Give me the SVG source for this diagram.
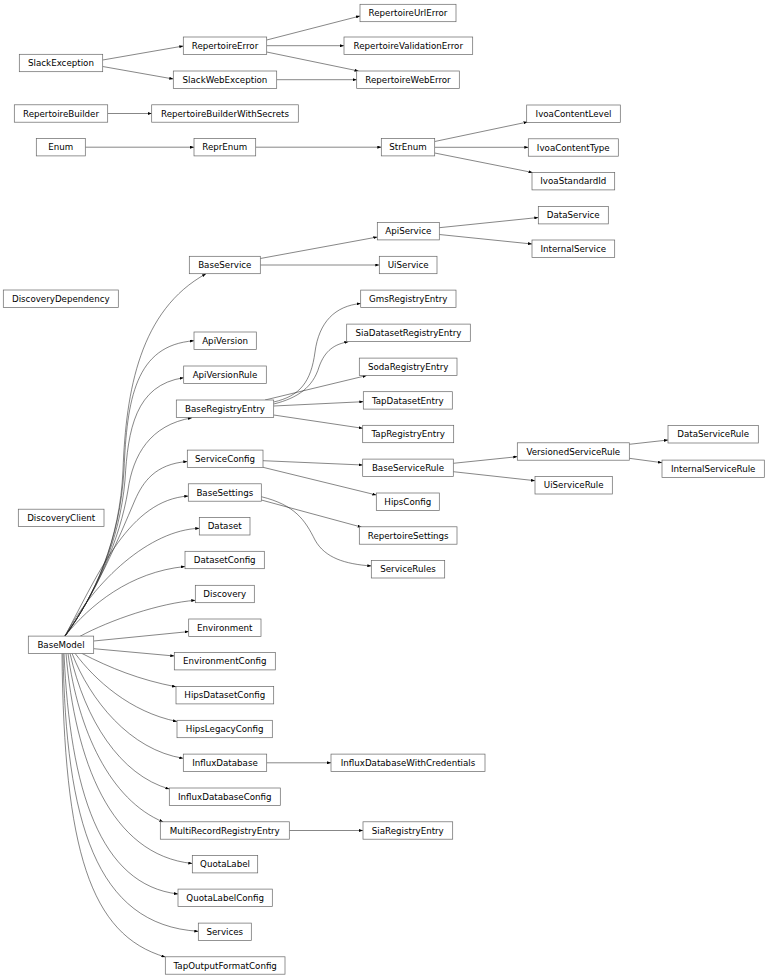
<svg xmlns="http://www.w3.org/2000/svg" width="768" height="978" viewBox="0 0 768 978">
<style>
rect{fill:#fff;stroke:#666;stroke-width:0.7}
text{font-family:"DejaVu Sans",sans-serif;font-size:8.7px;text-anchor:middle;fill:#000}
#edges path{fill:none;stroke:#222;stroke-width:0.55;marker-end:url(#a)}
</style>
<defs>
<marker id="a" markerWidth="4" markerHeight="3" refX="4" refY="1.5" orient="auto" markerUnits="userSpaceOnUse"><path d="M0,0 L4,1.5 L0,3z" fill="#000"/></marker>
</defs>
<rect x="0" y="0" width="768" height="978" style="stroke:none"/>
<g id="edges">
<path d="M102.7,60 L183.3,46"/>
<path d="M102.7,66.5 L173.3,79"/>
<path d="M266.7,40 L360,16"/>
<path d="M266.7,45.7 L344,45.7"/>
<path d="M266.7,52 L358.5,71"/>
<path d="M276.7,79.7 L356.7,79.7"/>
<path d="M107.7,113.5 L151.7,113.5"/>
<path d="M85.3,147.2 L194,147.2"/>
<path d="M255.7,147.2 L381.3,147.2"/>
<path d="M434.7,141.5 L527.5,122"/>
<path d="M434.7,147.3 L528.3,147.3"/>
<path d="M434.7,153 L532.5,172.5"/>
<path d="M260.3,258.5 L377.3,237"/>
<path d="M260.3,265 L379.3,265"/>
<path d="M439.3,227.7 L538.3,217.5"/>
<path d="M439.3,234.5 L532,244"/>
<path d="M273.7,402 C300,396 311,382 315,352 C319,322 335,306 360.7,303.5"/>
<path d="M273.7,404 C298,398 313,387 319,367 C325,350 335,344 348.3,341.8"/>
<path d="M265,400 L366.7,375.5"/>
<path d="M273.7,406 L363.3,401.7"/>
<path d="M273.7,415 L362.7,428.3"/>
<path d="M263,460.7 L362.7,465"/>
<path d="M263,467.3 L376.3,495"/>
<path d="M261.3,500 L361.7,527.2"/>
<path d="M261.3,496.7 C295,505 305,520 315,540 C325,558 345,564 371.3,566"/>
<path d="M453.3,463.3 L517.3,456.7"/>
<path d="M453.3,471.7 L535,480.7"/>
<path d="M629.3,444.3 L668,440"/>
<path d="M629.3,458.3 L662,462.7"/>
<path d="M266.7,762.8 L331,762.8"/>
<path d="M289.3,830.5 L363,830.5"/>
<path d="M65,636 C95,595 120,540 123,470 C126,390 140,310 206,273.8"/>
<path d="M65,636 C95,595 120,540 124,470 C127,400 135,345 194,340.8"/>
<path d="M65,636 C95,595 120,540 125,480 C128,430 135,385 183.7,377.7"/>
<path d="M65,636 C95,595 120,540 128,490 C133,455 150,425 192,417.8"/>
<path d="M65,636 C95,595 118,540 135,500 C143,482 155,464 187.3,461.5"/>
<path d="M65,636 C100,570 130,500 188.3,496"/>
<path d="M65,636 C95,580 150,530 199.3,528.3"/>
<path d="M65,636 C90,605 130,572 185,566.5"/>
<path d="M80,636.3 C110,620 160,603 195.3,600.3"/>
<path d="M93.7,641 L188.7,631.6"/>
<path d="M93.7,648.7 L174.3,656"/>
<path d="M81.7,653.3 C110,668 140,680 176,686.8"/>
<path d="M75,653.3 C95,680 130,712 177,721.5"/>
<path d="M72,653.3 C90,700 130,750 183.3,758.3"/>
<path d="M70,653.3 C85,720 120,775 169.3,789"/>
<path d="M68,653.3 C78,730 110,800 163.3,822"/>
<path d="M66,653.3 C75,760 110,855 192.3,863.5"/>
<path d="M64,653.3 C70,790 100,885 178,894"/>
<path d="M63,653.3 C66,820 95,925 198.3,931.3"/>
<path d="M62,653.3 C64,850 90,935 165.3,957"/>
</g>
<g id="SlackException"><rect x="19.3" y="54.3" width="83.4" height="17.4"/><text x="61" y="66.1">SlackException</text></g>
<g id="RepertoireBuilder"><rect x="14.3" y="104.8" width="93.4" height="17.4"/><text x="61" y="116.6">RepertoireBuilder</text></g>
<g id="Enum"><rect x="36.3" y="138.5" width="49" height="17.4"/><text x="60.8" y="150.3">Enum</text></g>
<g id="DiscoveryDependency"><rect x="3.3" y="290" width="115" height="17.4"/><text x="60.8" y="301.8">DiscoveryDependency</text></g>
<g id="DiscoveryClient"><rect x="18.3" y="509.2" width="85.7" height="17.4"/><text x="61.2" y="521">DiscoveryClient</text></g>
<g id="BaseModel"><rect x="28.3" y="636.1" width="65.4" height="17.4"/><text x="61" y="647.9">BaseModel</text></g>
<g id="RepertoireError"><rect x="183.3" y="37" width="83.4" height="17.4"/><text x="225" y="48.8">RepertoireError</text></g>
<g id="SlackWebException"><rect x="173.3" y="71" width="103.4" height="17.4"/><text x="225" y="82.8">SlackWebException</text></g>
<g id="RepertoireBuilderWithSecrets"><rect x="151.7" y="104.8" width="146.6" height="17.4"/><text x="225" y="116.6">RepertoireBuilderWithSecrets</text></g>
<g id="ReprEnum"><rect x="194" y="138.5" width="61.7" height="17.4"/><text x="224.8" y="150.3">ReprEnum</text></g>
<g id="BaseService"><rect x="189.3" y="256.3" width="71" height="17.4"/><text x="224.8" y="268.1">BaseService</text></g>
<g id="ApiVersion"><rect x="194" y="332" width="62.3" height="17.4"/><text x="225.1" y="343.8">ApiVersion</text></g>
<g id="ApiVersionRule"><rect x="183.7" y="366" width="82.6" height="17.4"/><text x="225" y="377.8">ApiVersionRule</text></g>
<g id="BaseRegistryEntry"><rect x="176.3" y="400" width="97.4" height="17.4"/><text x="225" y="411.8">BaseRegistryEntry</text></g>
<g id="ServiceConfig"><rect x="187.3" y="450.1" width="75.7" height="17.4"/><text x="225.1" y="461.9">ServiceConfig</text></g>
<g id="BaseSettings"><rect x="188.3" y="483.8" width="73" height="17.4"/><text x="224.8" y="495.6">BaseSettings</text></g>
<g id="Dataset"><rect x="199.3" y="517.6" width="50.7" height="17.4"/><text x="224.7" y="529.4">Dataset</text></g>
<g id="DatasetConfig"><rect x="185" y="551.3" width="79.3" height="17.4"/><text x="224.7" y="563.1">DatasetConfig</text></g>
<g id="Discovery"><rect x="195.3" y="585.3" width="59" height="17.4"/><text x="224.8" y="597.1">Discovery</text></g>
<g id="Environment"><rect x="188.7" y="619" width="72.3" height="17.4"/><text x="224.8" y="630.8">Environment</text></g>
<g id="EnvironmentConfig"><rect x="174.3" y="652.5" width="101" height="17.4"/><text x="224.8" y="664.3">EnvironmentConfig</text></g>
<g id="HipsDatasetConfig"><rect x="176" y="686.5" width="97.7" height="17.4"/><text x="224.8" y="698.3">HipsDatasetConfig</text></g>
<g id="HipsLegacyConfig"><rect x="177" y="720.3" width="95.3" height="17.4"/><text x="224.7" y="732.1">HipsLegacyConfig</text></g>
<g id="InfluxDatabase"><rect x="183.3" y="754.1" width="83.4" height="17.4"/><text x="225" y="765.9">InfluxDatabase</text></g>
<g id="InfluxDatabaseConfig"><rect x="169.3" y="788" width="111" height="17.4"/><text x="224.8" y="799.8">InfluxDatabaseConfig</text></g>
<g id="MultiRecordRegistryEntry"><rect x="160.3" y="821.8" width="129" height="17.4"/><text x="224.8" y="833.6">MultiRecordRegistryEntry</text></g>
<g id="QuotaLabel"><rect x="192.3" y="855.5" width="65.4" height="17.4"/><text x="225" y="867.3">QuotaLabel</text></g>
<g id="QuotaLabelConfig"><rect x="178" y="889.1" width="94.3" height="17.4"/><text x="225.2" y="900.9">QuotaLabelConfig</text></g>
<g id="Services"><rect x="198.3" y="923.1" width="53" height="17.4"/><text x="224.8" y="934.9">Services</text></g>
<g id="TapOutputFormatConfig"><rect x="165.3" y="956.8" width="119.7" height="17.4"/><text x="225.2" y="968.6">TapOutputFormatConfig</text></g>
<g id="RepertoireUrlError"><rect x="360" y="4.3" width="96" height="17.4"/><text x="408" y="16.1">RepertoireUrlError</text></g>
<g id="RepertoireValidationError"><rect x="344" y="37" width="128.7" height="17.4"/><text x="408.3" y="48.8">RepertoireValidationError</text></g>
<g id="RepertoireWebError"><rect x="356.7" y="71" width="102.6" height="17.4"/><text x="408" y="82.8">RepertoireWebError</text></g>
<g id="StrEnum"><rect x="381.3" y="138.5" width="53.4" height="17.4"/><text x="408" y="150.3">StrEnum</text></g>
<g id="ApiService"><rect x="377.3" y="222.5" width="62" height="17.4"/><text x="408.3" y="234.3">ApiService</text></g>
<g id="UiService"><rect x="379.3" y="256.3" width="57.7" height="17.4"/><text x="408.2" y="268.1">UiService</text></g>
<g id="GmsRegistryEntry"><rect x="360.7" y="290.1" width="95.3" height="17.4"/><text x="408.3" y="301.9">GmsRegistryEntry</text></g>
<g id="SiaDatasetRegistryEntry"><rect x="346.7" y="324.1" width="123.6" height="17.4"/><text x="408.5" y="335.9">SiaDatasetRegistryEntry</text></g>
<g id="SodaRegistryEntry"><rect x="359.3" y="358.1" width="97.7" height="17.4"/><text x="408.2" y="369.9">SodaRegistryEntry</text></g>
<g id="TapDatasetEntry"><rect x="363.3" y="391.7" width="89" height="17.4"/><text x="407.8" y="403.5">TapDatasetEntry</text></g>
<g id="TapRegistryEntry"><rect x="362.7" y="425.3" width="91" height="17.4"/><text x="408.2" y="437.1">TapRegistryEntry</text></g>
<g id="BaseServiceRule"><rect x="362.7" y="459.1" width="90.6" height="17.4"/><text x="408" y="470.9">BaseServiceRule</text></g>
<g id="HipsConfig"><rect x="376.3" y="493" width="63" height="17.4"/><text x="407.8" y="504.8">HipsConfig</text></g>
<g id="RepertoireSettings"><rect x="359.3" y="526.8" width="97.7" height="17.4"/><text x="408.2" y="538.6">RepertoireSettings</text></g>
<g id="ServiceRules"><rect x="371.3" y="560.6" width="73.4" height="17.4"/><text x="408" y="572.4">ServiceRules</text></g>
<g id="InfluxDatabaseWithCredentials"><rect x="331" y="754.1" width="154" height="17.4"/><text x="408" y="765.9">InfluxDatabaseWithCredentials</text></g>
<g id="SiaRegistryEntry"><rect x="363" y="821.8" width="89.7" height="17.4"/><text x="407.8" y="833.6">SiaRegistryEntry</text></g>
<g id="IvoaContentLevel"><rect x="526.7" y="105" width="93.6" height="17.4"/><text x="573.5" y="116.8">IvoaContentLevel</text></g>
<g id="IvoaContentType"><rect x="528.3" y="138.8" width="90" height="17.4"/><text x="573.3" y="150.6">IvoaContentType</text></g>
<g id="IvoaStandardId"><rect x="532" y="172.5" width="82.7" height="17.4"/><text x="573.3" y="184.3">IvoaStandardId</text></g>
<g id="DataService"><rect x="538.3" y="206.5" width="70" height="17.4"/><text x="573.3" y="218.3">DataService</text></g>
<g id="InternalService"><rect x="532" y="240" width="82.7" height="17.4"/><text x="573.3" y="251.8">InternalService</text></g>
<g id="VersionedServiceRule"><rect x="517.3" y="442.8" width="112" height="17.4"/><text x="573.3" y="454.6">VersionedServiceRule</text></g>
<g id="UiServiceRule"><rect x="535" y="476.6" width="77.3" height="17.4"/><text x="573.7" y="488.4">UiServiceRule</text></g>
<g id="DataServiceRule"><rect x="668" y="425.6" width="90.3" height="17.4"/><text x="713.2" y="437.4">DataServiceRule</text></g>
<g id="InternalServiceRule"><rect x="662" y="460.1" width="102.3" height="17.4"/><text x="713.2" y="471.9">InternalServiceRule</text></g>
</svg>
